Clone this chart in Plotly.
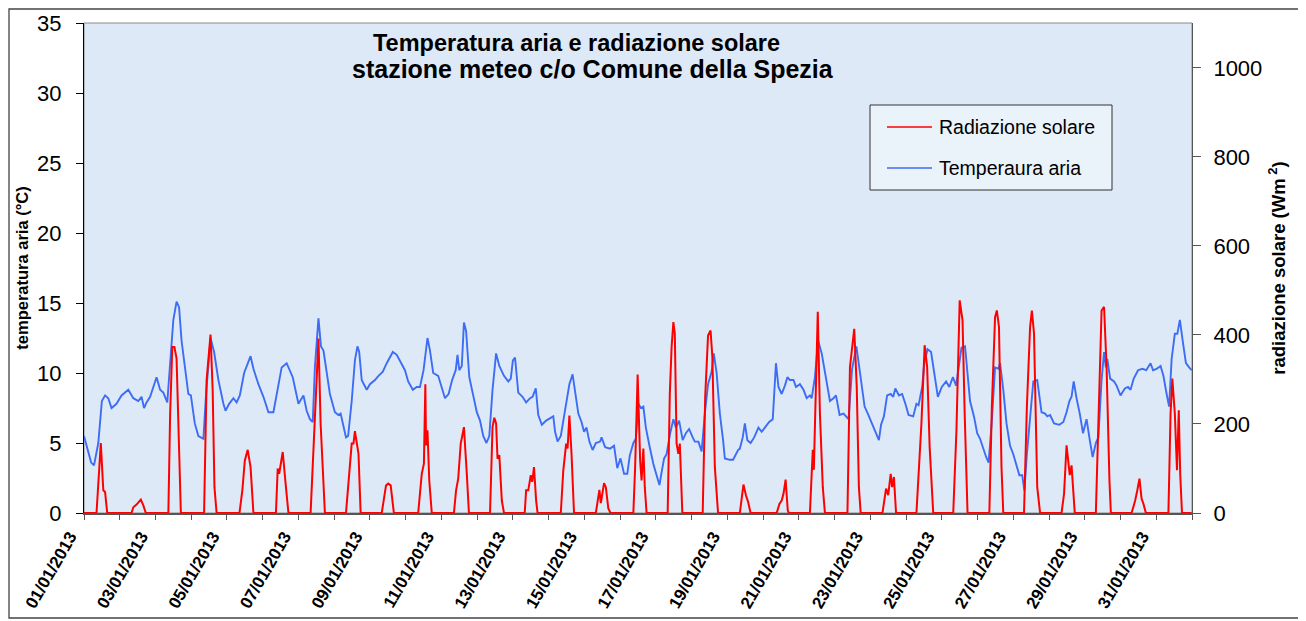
import numpy as np
import pandas as pd
import plotly.graph_objects as go

# ---------------- data ----------------
start_date = "2013-01-01"
end_date = "2013-02-01"

# air temperature: time in days from 01/01/2013 00:00, value in °C
temp_days = [
    0.00, 0.20, 0.28, 0.40, 0.50, 0.59, 0.68, 0.77, 0.91, 1.05, 1.24, 1.38, 1.52, 1.61, 1.68, 1.75, 1.85,
    2.03, 2.13, 2.22, 2.33, 2.41, 2.50, 2.59, 2.66, 2.73, 2.85, 2.92, 2.99, 3.10, 3.20, 3.34, 3.41, 3.54,
    3.64, 3.76, 3.90, 3.96, 4.06, 4.18, 4.27, 4.36, 4.48, 4.66, 4.74, 4.88, 5.02, 5.16, 5.30, 5.42, 5.53,
    5.67, 5.84, 6.00, 6.14, 6.23, 6.32, 6.40, 6.46, 6.56, 6.63, 6.70, 6.79, 6.88, 7.02, 7.12, 7.18, 7.26,
    7.33, 7.39, 7.49, 7.58, 7.65, 7.70, 7.77, 7.83, 7.91, 8.00, 8.14, 8.24, 8.36, 8.47, 8.64, 8.75, 8.84,
    8.98, 9.07, 9.20, 9.31, 9.40, 9.50, 9.61, 9.68, 9.77, 9.91, 10.00, 10.10, 10.20, 10.30, 10.40, 10.45,
    10.50, 10.57, 10.63, 10.69, 10.78, 10.89, 10.99, 11.08, 11.17, 11.26, 11.34, 11.43, 11.53, 11.62,
    11.75, 11.87, 11.94, 12.00, 12.06, 12.15, 12.27, 12.37, 12.48, 12.55, 12.64, 12.71, 12.81, 12.93,
    13.04, 13.13, 13.18, 13.25, 13.34, 13.44, 13.50, 13.58, 13.67, 13.74, 13.83, 13.92, 13.99, 14.06,
    14.14, 14.23, 14.32, 14.44, 14.48, 14.58, 14.72, 14.83, 14.92, 15.01, 15.11, 15.20, 15.27, 15.37,
    15.44, 15.51, 15.58, 15.65, 15.72, 15.82, 15.93, 16.02, 16.10, 16.16, 16.23, 16.30, 16.40, 16.49,
    16.56, 16.65, 16.75, 16.84, 16.93, 17.03, 17.09, 17.19, 17.28, 17.37, 17.46, 17.56, 17.62, 17.70,
    17.79, 17.88, 17.93, 18.07, 18.16, 18.30, 18.35, 18.43, 18.49, 18.56, 18.65, 18.75, 18.87, 18.96,
    19.05, 19.17, 19.27, 19.36, 19.43, 19.52, 19.61, 19.68, 19.75, 19.85, 19.92, 20.03, 20.13, 20.22,
    20.31, 20.36, 20.45, 20.54, 20.64, 20.76, 20.87, 20.97, 21.04, 21.14, 21.25, 21.39, 21.49, 21.61,
    21.72, 21.84, 21.93, 22.05, 22.15, 22.24, 22.30, 22.38, 22.47, 22.57, 22.64, 22.70, 22.80, 22.89,
    22.98, 23.07, 23.20, 23.29, 23.35, 23.45, 23.51, 23.60, 23.70, 23.79, 23.89, 24.00, 24.12, 24.21,
    24.31, 24.40, 24.46, 24.55, 24.65, 24.72, 24.79, 24.90, 24.99, 25.07, 25.14, 25.24, 25.31, 25.40,
    25.49, 25.58, 25.63, 25.72, 25.81, 25.91, 26.00, 26.08, 26.17, 26.25, 26.31, 26.38, 26.47, 26.56,
    26.67, 26.79, 26.89, 26.95, 27.03, 27.14, 27.29, 27.40, 27.49, 27.57, 27.63, 27.69, 27.77, 27.86,
    27.95, 28.05, 28.14, 28.22, 28.31, 28.38, 28.47, 28.54, 28.59, 28.63, 28.71, 28.82, 28.89, 29.00,
    29.12, 29.21, 29.28, 29.37, 29.49, 29.61, 29.72, 29.84, 29.91, 30.01, 30.12, 30.20, 30.29, 30.36,
    30.43, 30.52, 30.59, 30.66, 30.74, 30.83, 30.92, 30.99,
]
temp_vals = [
    5.5, 3.6, 3.4, 5.0, 8.0, 8.4, 8.2, 7.5, 7.8, 8.4, 8.8, 8.2, 8.0, 8.3, 7.5, 7.9, 8.3,
    9.7, 8.8, 8.6, 7.9, 10.7, 13.8, 15.1, 14.7, 12.3, 9.7, 8.5, 8.4, 6.4, 5.5, 5.3, 8.3, 12.5,
    11.5, 9.5, 7.8, 7.3, 7.8, 8.2, 7.9, 8.4, 10.0, 11.2, 10.3, 9.2, 8.3, 7.2, 7.2, 9.0, 10.4,
    10.7, 9.7, 7.8, 8.4, 7.3, 6.7, 6.5, 10.4, 13.9, 11.9, 11.6, 10.0, 8.5, 7.2, 7.0, 7.1, 6.1,
    5.4, 5.5, 8.0, 10.9, 11.9, 11.5, 9.5, 9.2, 8.8, 9.2, 9.5, 9.8, 10.1, 10.7, 11.5, 11.3, 10.9,
    10.2, 9.4, 8.8, 9.0, 9.0, 10.2, 12.5, 11.6, 10.0, 9.8, 9.0, 8.2, 8.5, 9.5, 10.2, 11.3,
    10.2, 10.5, 13.6, 13.0, 9.7, 8.3, 7.2, 6.6, 5.5, 5.0, 5.5, 8.8, 11.4, 10.5,
    9.8, 9.4, 9.6, 10.9, 11.1, 8.6, 8.3, 7.9, 8.2, 8.3, 8.9, 7.0, 6.3, 6.6,
    6.8, 6.9, 5.8, 5.1, 5.5, 7.1, 7.8, 9.2, 9.9, 8.5, 7.1, 6.5, 5.8, 6.1,
    5.1, 4.5, 5.0, 5.1, 5.4, 4.7, 4.6, 4.8, 3.2, 3.9, 2.8, 2.8, 4.1, 5.0,
    5.3, 7.8, 7.5, 7.6, 6.1, 4.8, 3.5, 2.7, 2.0, 2.9, 3.9, 4.2, 5.7, 6.7,
    6.1, 6.6, 5.2, 5.7, 6.0, 5.4, 5.1, 5.1, 4.4, 7.1, 9.2, 10.1, 11.4, 10.0,
    7.1, 5.2, 3.9, 3.8, 3.8, 4.5, 4.6, 5.4, 6.4, 5.2, 5.0, 5.4, 6.1, 5.8,
    6.1, 6.5, 6.7, 10.7, 9.0, 8.5, 9.1, 9.7, 9.5, 9.5, 9.0, 9.2, 8.8, 8.2,
    8.4, 8.2, 9.7, 12.3, 11.4, 9.7, 8.0, 8.2, 8.4, 7.0, 7.1, 6.7, 10.3, 11.9,
    9.7, 7.6, 7.1, 6.4, 5.7, 5.2, 6.3, 6.9, 8.4, 8.5, 8.3, 8.9, 8.4, 8.5,
    7.8, 7.0, 6.9, 7.8, 7.7, 9.0, 10.7, 11.7, 11.5, 10.1, 8.3, 9.0, 9.4, 9.0,
    9.7, 9.1, 10.3, 11.8, 11.9, 10.0, 8.0, 6.9, 5.7, 5.3, 4.7, 4.0, 3.6, 6.6,
    10.4, 10.3, 10.7, 8.8, 6.4, 4.8, 4.2, 3.4, 2.7, 2.7, 1.6, 4.2, 6.6, 9.4,
    9.5, 7.2, 7.1, 6.9, 7.0, 6.4, 6.3, 6.5, 7.2, 8.0, 8.3, 9.4, 8.2, 7.1,
    5.7, 6.7, 5.2, 4.0, 5.0, 5.4, 9.5, 11.5, 10.4, 11.0, 9.6, 9.4, 9.1, 8.4,
    8.9, 9.0, 8.8, 9.6, 10.2, 10.3, 10.2, 10.7, 10.2, 10.3, 10.5, 9.8, 8.5, 7.6,
    11.0, 12.8, 12.8, 13.8, 12.3, 10.7, 10.4, 10.2,
]

# solar radiation: time in days from 01/01/2013 00:00, value in W m-2
rad_days = [
    0.00, 0.35, 0.47, 0.54, 0.59, 0.65,
    1.33, 1.38, 1.47, 1.59, 1.66, 1.73,
    2.36, 2.41, 2.47, 2.53, 2.59, 2.64, 2.71,
    3.36, 3.43, 3.54, 3.60, 3.65, 3.71,
    4.35, 4.43, 4.50, 4.58, 4.66, 4.74,
    5.37, 5.42, 5.46, 5.56, 5.65, 5.72,
    6.34, 6.46, 6.56, 6.62, 6.70, 6.74,
    7.33, 7.49, 7.54, 7.58, 7.68, 7.74,
    8.33, 8.45, 8.51, 8.58, 8.67,
    9.35, 9.45, 9.51, 9.55, 9.57, 9.61, 9.66, 9.73,
    10.35, 10.41, 10.47, 10.54, 10.63, 10.71, 10.77,
    11.36, 11.43, 11.48, 11.53, 11.57, 11.62, 11.69, 11.75,
    12.33, 12.37, 12.43, 12.50, 12.54, 12.59, 12.65, 12.69,
    13.34, 13.41, 13.49, 13.53, 13.58, 13.64, 13.71,
    14.32, 14.42, 14.46, 14.55, 14.60, 14.67, 14.73,
    15.37, 15.42, 15.49, 15.56, 15.60, 15.65, 15.69, 15.74,
    16.33, 16.39, 16.44, 16.49, 16.53, 16.58, 16.63, 16.67, 16.74,
    17.31, 17.38, 17.46, 17.53, 17.58, 17.65, 17.74,
    18.35, 18.40, 18.45, 18.52, 18.58, 18.65,
    19.38, 19.46, 19.52, 19.57, 19.63, 19.69, 19.72,
    20.31, 20.39, 20.42, 20.48, 20.53, 20.59, 20.67, 20.73,
    21.36, 21.43, 21.50, 21.55, 21.62, 21.68, 21.73,
    22.34, 22.44, 22.50, 22.57, 22.61, 22.66, 22.72,
    23.29, 23.43, 23.52, 23.59, 23.66, 23.76,
    24.32, 24.41, 24.50, 24.58, 24.64, 24.72,
    25.33, 25.40, 25.49, 25.54, 25.60, 25.67, 25.72,
    26.30, 26.38, 26.47, 26.52, 26.58, 26.67, 26.75,
    27.35, 27.42, 27.49, 27.58, 27.63, 27.67, 27.72,
    28.31, 28.41, 28.47, 28.54, 28.61, 28.69, 28.73,
    29.31, 29.41, 29.47, 29.53, 29.59, 29.64, 29.71,
    30.34, 30.40, 30.45, 30.52, 30.58, 30.63, 30.67, 30.72,
    30.99,
]
rad_vals = [
    0, 0, 157, 51, 47, 0,
    0, 13, 19, 30, 17, 0,
    0, 223, 373, 373, 347, 223, 0,
    0, 298, 401, 276, 58, 0,
    0, 51, 118, 142, 103, 0,
    0, 100, 88, 137, 58, 0,
    0, 223, 392, 201, 43, 0,
    0, 156, 156, 184, 133, 0,
    0, 62, 66, 62, 0,
    0, 88, 111, 289, 152, 186, 73, 0,
    0, 51, 77, 156, 193, 88, 0,
    0, 193, 214, 201, 122, 130, 28, 0,
    0, 51, 51, 85, 70, 103, 28, 0,
    0, 96, 156, 145, 219, 133, 0,
    0, 52, 22, 67, 58, 10, 0,
    0, 103, 311, 118, 73, 145, 58, 0,
    0, 268, 373, 429, 403, 156, 133, 156, 0,
    0, 261, 399, 410, 351, 103, 0,
    0, 40, 64, 40, 25, 0,
    0, 21, 28, 43, 75, 6, 0,
    0, 142, 97, 298, 452, 223, 58, 0,
    0, 328, 373, 414, 283, 58, 0,
    0, 55, 40, 88, 58, 81, 0,
    0, 201, 377, 328, 148, 0,
    0, 186, 478, 433, 223, 0,
    0, 238, 440, 455, 418, 103, 0,
    0, 238, 418, 455, 403, 58, 0,
    0, 43, 152, 85, 107, 51, 0,
    0, 298, 455, 463, 328, 73, 0,
    0, 28, 51, 77, 32, 21, 0,
    0, 223, 302, 223, 96, 231, 88, 0,
    0,
]

series_names = ["Radiazione solare", "Temperaura aria"]
title_lines = ["Temperatura aria e radiazione solare",
               "stazione meteo c/o Comune della Spezia"]
left_title = "temperatura aria (°C)"
right_title = "radiazione solare (Wm<sup> 2</sup>)"

# ---------------- figure ----------------
base = pd.Timestamp(start_date)
t_temp = base + pd.to_timedelta(np.array(temp_days), unit="D")
t_rad = base + pd.to_timedelta(np.array(rad_days), unit="D")

FONT = "Liberation Sans, Arial, sans-serif"
RED = "#ff0000"
BLUE = "#3d6cf5"

fig = go.Figure()
fig.add_trace(go.Scatter(x=t_temp, y=temp_vals, mode="lines", name=series_names[1],
                         line=dict(color=BLUE, width=1.9), yaxis="y"))
fig.add_trace(go.Scatter(x=t_rad, y=rad_vals, mode="lines", name=series_names[0],
                         line=dict(color=RED, width=2.0), yaxis="y2"))

# the page body has an 8 px margin, so the figure starts at page (8, 8)
OFF = 8
W, H = 1306 - OFF, 612
# plot area in page pixels
L, R, T, B = 84, 1192, 23, 513


def px(x):
    return (x - L) / (R - L)


def py(y):
    return (B - y) / (B - T)


fig.update_layout(
    width=W, height=H,
    margin=dict(l=L - OFF, r=W - (R - OFF), t=T - OFF, b=H - (B - OFF), pad=0, autoexpand=False),
    paper_bgcolor="white",
    plot_bgcolor="#dde9f6",
    showlegend=False,
    font=dict(family=FONT, color="black"),
    xaxis=dict(
        type="date",
        automargin=False,
        range=[start_date, end_date],
        tick0=start_date,
        dtick=2 * 86400000,
        tickformat="%d/%m/%Y",
        tickangle=-60,
        ticks="outside", ticklen=5, tickwidth=1, tickcolor="#555555",
        showline=True, linecolor="#555555", linewidth=2,
        showgrid=False, zeroline=False,
        tickfont=dict(size=17, weight="bold", family=FONT, color="black"),
        ticklabelshift=-14,
        minor=dict(dtick=86400000, tick0=start_date, ticks="outside", ticklen=5,
                   tickcolor="#555555", showgrid=False),
    ),
    yaxis=dict(
        automargin=False,
        range=[0, 35], dtick=5,
        ticks="outside", ticklen=7, tickcolor="black",
        showline=True, linecolor="black", linewidth=1,
        showgrid=False, zeroline=False,
        tickfont=dict(size=22, family=FONT, color="black"),
        ticklabelstandoff=10,
        title=dict(text=left_title, font=dict(size=16.5, weight="bold", family=FONT), standoff=4),
    ),
    yaxis2=dict(
        automargin=False,
        range=[0, 1101], dtick=200,
        overlaying="y", side="right", anchor="x",
        ticks="outside", ticklen=8, tickcolor="#555555",
        showline=True, linecolor="#555555", linewidth=1,
        showgrid=False, zeroline=False,
        tickfont=dict(size=22, family=FONT, color="black"),
        ticklabelstandoff=8,
        title=dict(text=right_title, font=dict(size=18.5, weight="bold", family=FONT), standoff=10),
    ),
)

shapes = [
    # outer chart frame
    dict(type="rect", xref="paper", yref="paper", x0=px(9), x1=px(1299), y0=py(618), y1=py(9),
         line=dict(color="#444444", width=1.3), fillcolor="rgba(0,0,0,0)", layer="above"),
    # plot area border
    dict(type="rect", xref="paper", yref="paper", x0=0, x1=1, y0=0, y1=1,
         line=dict(color="#8a8a8a", width=1), fillcolor="rgba(0,0,0,0)", layer="below"),
    # legend box
    dict(type="rect", xref="paper", yref="paper", x0=px(870), x1=px(1112), y0=py(190), y1=py(105),
         line=dict(color="#333333", width=1), fillcolor="#eaf2fa", layer="above"),
    dict(type="line", xref="paper", yref="paper", x0=px(887), x1=px(932), y0=py(127), y1=py(127),
         line=dict(color=RED, width=1.6), layer="above"),
    dict(type="line", xref="paper", yref="paper", x0=px(887), x1=px(932), y0=py(168), y1=py(168),
         line=dict(color=BLUE, width=1.6), layer="above"),
]
fig.update_layout(shapes=shapes)

annotations = [
    dict(text="<b>" + title_lines[0] + "</b>", x=px(576), y=py(43), xref="paper", yref="paper",
         showarrow=False, xanchor="center", yanchor="middle", font=dict(size=23.5, family=FONT)),
    dict(text="<b>" + title_lines[1] + "</b>", x=px(593), y=py(69), xref="paper", yref="paper",
         showarrow=False, xanchor="center", yanchor="middle", font=dict(size=25, family=FONT)),
    dict(text=series_names[0], x=px(937), y=py(127), xref="paper", yref="paper",
         showarrow=False, xanchor="left", yanchor="middle", font=dict(size=19.5, family=FONT)),
    dict(text=series_names[1], x=px(937), y=py(168), xref="paper", yref="paper",
         showarrow=False, xanchor="left", yanchor="middle", font=dict(size=19.5, family=FONT)),
]
fig.update_layout(annotations=annotations)

fig.write_html("out.html")
